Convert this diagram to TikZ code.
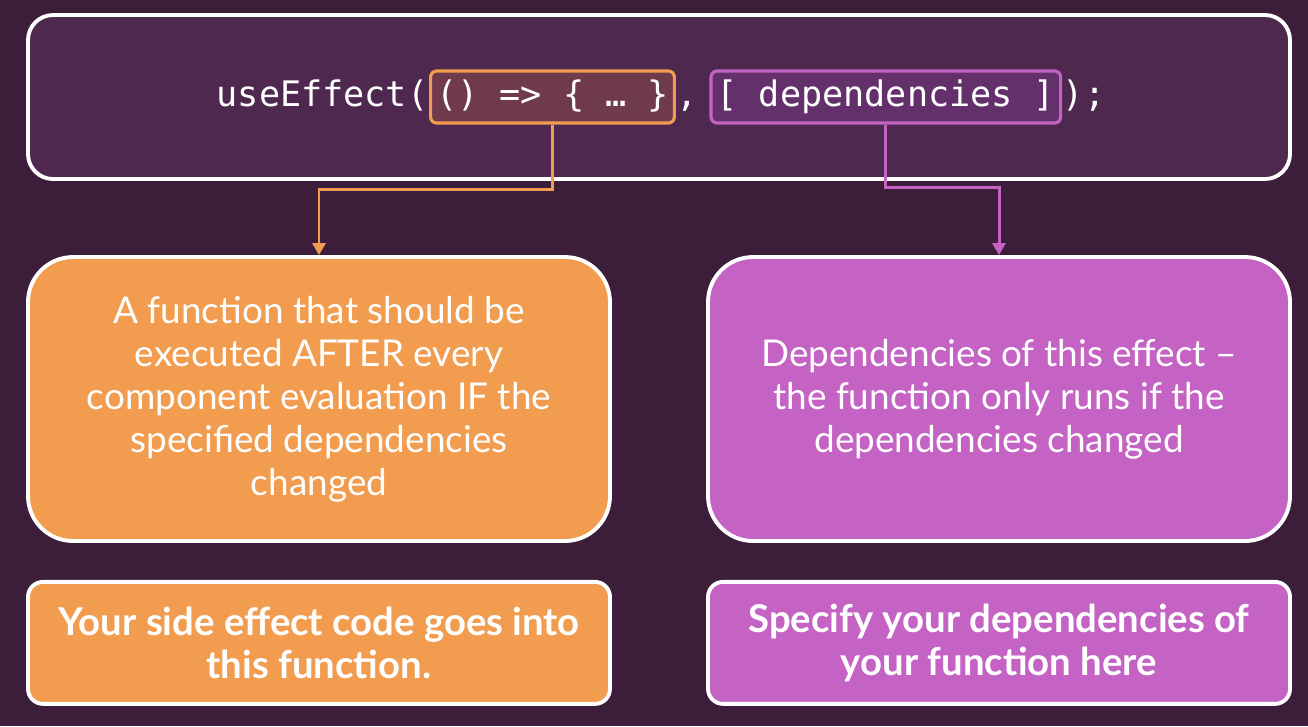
\documentclass[tikz,border=0pt]{standalone}
\usepackage{fontspec}
\setmainfont{Lato}
\setmonofont{DejaVu Sans Mono}
\usetikzlibrary{positioning,arrows.meta}

\definecolor{bgpurple}{HTML}{3C1D3A}
\definecolor{codebg}{HTML}{4F2850}
\definecolor{fnorange}{HTML}{F29C50}
\definecolor{deppurple}{HTML}{C463C4}
\definecolor{fnshade}{HTML}{6E3A4C}
\definecolor{depshade}{HTML}{64306C}

\begin{document}
\begin{tikzpicture}[
  panel/.style={draw=white, line width=1.1pt, rounded corners=0.45cm, minimum width=5.82cm, minimum height=2.84cm, align=center, text=white, font=\fontsize{10.5}{12.2}\selectfont},
  hint/.style={draw=white, line width=1.1pt, rounded corners=0.15cm, minimum width=5.82cm, minimum height=1.22cm, align=center, text=white, font=\fontsize{10.9}{12}\selectfont\bfseries},
  code/.style={inner sep=0pt, text=white, font=\ttfamily\fontsize{10}{12}\selectfont, text height=0.8em, text depth=0.25em},
  hlbox/.style={code, inner xsep=0.055cm, minimum height=0.52cm, line width=0.9pt, rounded corners=0.06cm},
  link/.style={line width=0.85pt, -{Triangle[width=0.13cm,length=0.12cm]}}
]

\useasboundingbox (0,0) rectangle (13.08,-7.26);
\fill[bgpurple] (0,0) rectangle (13.08,-7.26);

% the hook call
\node[panel, fill=codebg, rounded corners=0.25cm, minimum width=12.62cm, minimum height=1.64cm] (hook) at (6.59,-0.97) {};
\node[code, anchor=west] (callopen) at (2.16,-0.97) {useEffect(};
\node[hlbox, draw=fnorange, fill=fnshade, right=0pt of callopen] (fnbox) {() => \{ … \}};
\node[code, right=0pt of fnbox] (comma) {,};
\node[hlbox, draw=deppurple, fill=depshade, right=0.11cm of comma] (depbox) {[ dependencies ]};
\node[code, right=0pt of depbox] (callclose) {);};

% explanations
\node[panel, fill=fnorange] (fnnote) at (3.19,-3.99) {A function that should be\\executed AFTER every\\component evaluation IF the\\specified dependencies\\changed};
\node[panel, fill=deppurple] (depnote) at (9.99,-3.99) {Dependencies of this effect –\\the function only runs if the\\dependencies changed};

\node[hint, fill=fnorange, below=0.37cm of fnnote] (fnhint) {Your side effect code goes into\\this function.};
\node[hint, fill=deppurple, below=0.37cm of depnote] (dephint) {Specify your dependencies of\\your function here};

\draw[link, fnorange] (fnbox.south) -- ++(0,-0.65) -| (fnnote.north);
\draw[link, deppurple] (depbox.south) -- ++(0,-0.63) -| (depnote.north);
\end{tikzpicture}
\end{document}
